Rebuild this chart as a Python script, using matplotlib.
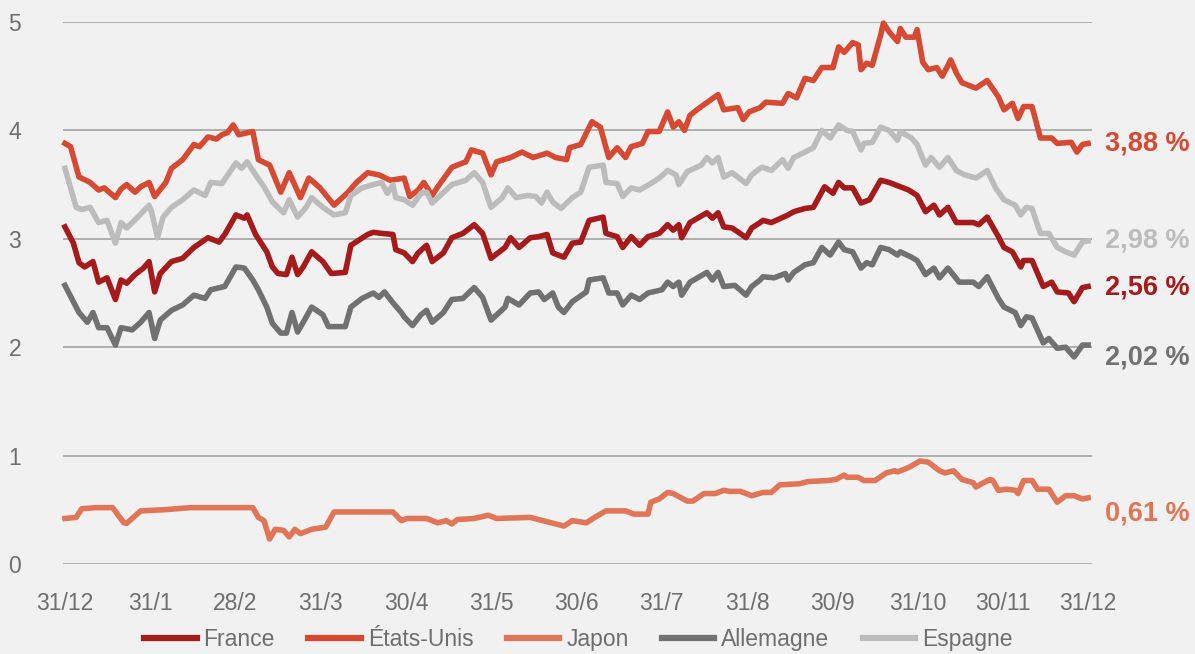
import matplotlib
matplotlib.use("Agg")
import matplotlib.pyplot as plt

plt.rcParams['font.family'] = ['Liberation Sans', 'DejaVu Sans']

# jours depuis le 31/12/2022 et taux a 10 ans (%)
us_days = [0, 2, 5, 9, 12, 14, 18, 20, 22, 25, 27, 30, 32, 36, 38, 42, 44, 46, 48, 51,
           54, 56, 58, 60, 62, 67, 69, 73, 77, 80, 84, 87, 91, 96, 101, 104, 108, 112, 116, 121,
           123, 126, 128, 131, 133, 138, 143, 145, 149, 152, 154, 159, 163, 167, 172, 175, 179, 180, 184, 188,
           191, 194, 197, 200, 202, 206, 208, 212, 215, 217, 219, 221, 223, 227, 233, 235, 240, 242, 244, 248,
           250, 256, 258, 261, 264, 267, 270, 274, 276, 278, 281, 283, 284, 286, 288, 291, 292, 294, 297, 298,
           300, 303, 304, 306, 308, 311, 313, 316, 318, 320, 325, 329, 333, 335, 338, 340, 342, 345, 348, 352,
           354, 359, 361, 363, 365]
us_vals = [3.88, 3.85, 3.57, 3.52, 3.45, 3.47, 3.38, 3.46, 3.50, 3.43, 3.48, 3.52, 3.39, 3.52, 3.65, 3.73, 3.80, 3.87, 3.85, 3.94,
           3.92, 3.96, 3.98, 4.05, 3.96, 3.99, 3.73, 3.68, 3.43, 3.61, 3.38, 3.56, 3.47, 3.31, 3.43, 3.52, 3.61, 3.59, 3.54, 3.56,
           3.39, 3.45, 3.52, 3.40, 3.48, 3.66, 3.71, 3.82, 3.79, 3.59, 3.71, 3.75, 3.80, 3.75, 3.79, 3.75, 3.73, 3.84, 3.87, 4.08,
           4.03, 3.75, 3.84, 3.75, 3.85, 3.88, 3.99, 3.99, 4.17, 4.03, 4.08, 4.00, 4.14, 4.22, 4.33, 4.19, 4.21, 4.10, 4.17, 4.21,
           4.26, 4.25, 4.34, 4.30, 4.48, 4.46, 4.58, 4.58, 4.77, 4.72, 4.81, 4.79, 4.56, 4.62, 4.60, 4.88, 4.99, 4.91, 4.82, 4.94,
           4.86, 4.86, 4.93, 4.63, 4.56, 4.58, 4.50, 4.65, 4.53, 4.44, 4.39, 4.46, 4.31, 4.19, 4.25, 4.11, 4.22, 4.22, 3.93, 3.93,
           3.88, 3.89, 3.80, 3.87, 3.88]

fr_days = [0, 3, 5, 7, 10, 12, 15, 18, 20, 22, 25, 28, 30, 32, 34, 38, 42, 46, 51, 55,
           57, 61, 64, 65, 68, 72, 74, 76, 79, 81, 83, 85, 88, 92, 95, 100, 102, 108, 110, 113,
           117, 118, 121, 124, 126, 129, 131, 135, 138, 142, 146, 149, 152, 157, 159, 162, 166, 169, 172, 174,
           178, 181, 184, 187, 192, 193, 197, 199, 202, 205, 208, 212, 215, 217, 219, 220, 223, 229, 231, 233,
           235, 238, 243, 245, 248, 249, 252, 258, 260, 264, 267, 271, 274, 276, 278, 281, 284, 287, 291, 294,
           296, 298, 301, 304, 307, 310, 312, 315, 318, 324, 326, 329, 333, 335, 338, 341, 342, 345, 349, 352,
           354, 358, 360, 363, 365]
fr_vals = [3.11, 2.96, 2.78, 2.74, 2.79, 2.60, 2.64, 2.44, 2.62, 2.59, 2.67, 2.73, 2.79, 2.51, 2.68, 2.79, 2.82, 2.92, 3.01, 2.97,
           3.04, 3.22, 3.19, 3.22, 3.04, 2.88, 2.74, 2.68, 2.67, 2.83, 2.67, 2.74, 2.88, 2.79, 2.68, 2.69, 2.94, 3.04, 3.06, 3.05,
           3.04, 2.90, 2.87, 2.79, 2.87, 2.94, 2.79, 2.87, 3.01, 3.05, 3.13, 3.05, 2.82, 2.92, 3.01, 2.92, 3.01, 3.02, 3.04, 2.87,
           2.83, 2.96, 2.97, 3.17, 3.20, 3.05, 3.02, 2.92, 3.02, 2.94, 3.02, 3.05, 3.13, 3.08, 3.13, 3.01, 3.15, 3.24, 3.19, 3.24,
           3.11, 3.10, 3.01, 3.10, 3.15, 3.17, 3.15, 3.22, 3.25, 3.28, 3.29, 3.48, 3.42, 3.52, 3.47, 3.47, 3.33, 3.36, 3.54, 3.52,
           3.50, 3.48, 3.45, 3.40, 3.25, 3.31, 3.22, 3.29, 3.15, 3.15, 3.13, 3.20, 3.02, 2.92, 2.88, 2.74, 2.80, 2.80, 2.56, 2.60,
           2.51, 2.50, 2.42, 2.55, 2.56]

jp_days = [0, 4, 6, 11, 17, 21, 22, 27, 35, 45, 67, 69, 71, 73, 75, 78, 80, 82, 84, 88,
           93, 96, 107, 117, 120, 122, 129, 133, 136, 138, 140, 146, 151, 154, 166, 172, 178, 181, 186, 189,
           193, 200, 203, 208, 209, 212, 215, 217, 222, 224, 228, 232, 235, 237, 241, 245, 249, 252, 255, 262,
           265, 272, 275, 278, 279, 283, 285, 289, 293, 296, 297, 301, 305, 308, 312, 314, 317, 320, 324, 325,
           327, 330, 331, 333, 336, 339, 340, 342, 345, 347, 351, 354, 357, 360, 363, 365]
jp_vals = [0.42, 0.43, 0.51, 0.52, 0.52, 0.38, 0.375, 0.49, 0.50, 0.52, 0.52, 0.43, 0.40, 0.23, 0.32, 0.31, 0.25, 0.32, 0.28, 0.32,
           0.34, 0.48, 0.48, 0.48, 0.40, 0.42, 0.42, 0.38, 0.40, 0.37, 0.41, 0.42, 0.45, 0.42, 0.43, 0.39, 0.35, 0.40, 0.38, 0.43,
           0.49, 0.49, 0.46, 0.46, 0.57, 0.60, 0.66, 0.65, 0.58, 0.58, 0.65, 0.65, 0.68, 0.67, 0.67, 0.63, 0.66, 0.66, 0.73, 0.74,
           0.76, 0.77, 0.78, 0.82, 0.80, 0.80, 0.77, 0.77, 0.84, 0.86, 0.85, 0.89, 0.95, 0.94, 0.86, 0.84, 0.86, 0.78, 0.75, 0.71,
           0.74, 0.78, 0.77, 0.68, 0.69, 0.68, 0.65, 0.77, 0.77, 0.69, 0.69, 0.57, 0.63, 0.63, 0.60, 0.61]

de_days = [0, 3, 5, 8, 10, 12, 15, 18, 20, 24, 27, 30, 32, 34, 38, 42, 46, 50, 52, 57,
           61, 64, 67, 69, 72, 74, 77, 79, 81, 83, 85, 88, 92, 94, 100, 102, 106, 110, 112, 114,
           117, 120, 121, 124, 127, 129, 131, 135, 138, 142, 146, 149, 152, 157, 158, 162, 166, 169, 171, 174,
           176, 178, 181, 186, 187, 192, 194, 197, 199, 202, 205, 208, 213, 215, 217, 219, 220, 223, 229, 231,
           233, 235, 239, 243, 245, 248, 249, 253, 257, 258, 260, 264, 267, 270, 273, 276, 278, 281, 284, 286,
           288, 291, 294, 297, 298, 302, 304, 307, 310, 312, 315, 319, 324, 326, 329, 333, 335, 339, 341, 343,
           345, 349, 351, 354, 357, 360, 363, 365]
de_vals = [2.57, 2.42, 2.32, 2.23, 2.32, 2.18, 2.18, 2.02, 2.18, 2.16, 2.23, 2.32, 2.08, 2.25, 2.34, 2.39, 2.48, 2.45, 2.53, 2.56,
           2.74, 2.73, 2.62, 2.53, 2.37, 2.22, 2.13, 2.13, 2.32, 2.14, 2.23, 2.37, 2.30, 2.19, 2.19, 2.37, 2.45, 2.50, 2.46, 2.51,
           2.41, 2.32, 2.28, 2.20, 2.30, 2.34, 2.23, 2.32, 2.44, 2.45, 2.55, 2.46, 2.25, 2.37, 2.45, 2.39, 2.50, 2.51, 2.44, 2.50,
           2.37, 2.32, 2.42, 2.51, 2.62, 2.64, 2.50, 2.50, 2.39, 2.48, 2.44, 2.50, 2.53, 2.60, 2.56, 2.60, 2.48, 2.60, 2.69, 2.62,
           2.69, 2.56, 2.57, 2.48, 2.56, 2.62, 2.65, 2.64, 2.68, 2.62, 2.69, 2.76, 2.78, 2.92, 2.85, 2.97, 2.90, 2.88, 2.73, 2.78,
           2.76, 2.92, 2.90, 2.85, 2.88, 2.83, 2.80, 2.67, 2.73, 2.64, 2.73, 2.60, 2.60, 2.56, 2.65, 2.45, 2.37, 2.32, 2.20, 2.28,
           2.27, 2.04, 2.08, 1.99, 2.00, 1.91, 2.02, 2.02]

es_days = [0, 2, 4, 6, 9, 12, 15, 18, 20, 22, 26, 30, 31, 33, 35, 38, 42, 46, 50, 52,
           56, 61, 63, 65, 68, 71, 74, 78, 80, 83, 86, 88, 92, 96, 100, 102, 106, 110, 113, 115,
           117, 118, 121, 124, 127, 129, 131, 136, 138, 143, 146, 149, 152, 156, 158, 161, 165, 168, 170, 172,
           174, 177, 181, 184, 187, 192, 193, 197, 199, 202, 205, 209, 212, 215, 218, 219, 222, 227, 229, 231,
           233, 235, 238, 243, 245, 248, 249, 252, 256, 258, 260, 264, 267, 270, 273, 276, 279, 281, 284, 285,
           288, 291, 294, 297, 298, 302, 304, 307, 309, 312, 315, 318, 321, 325, 329, 332, 335, 339, 341, 343,
           345, 348, 351, 354, 357, 360, 363, 365]
es_vals = [3.65, 3.47, 3.29, 3.27, 3.29, 3.15, 3.17, 2.96, 3.15, 3.10, 3.20, 3.31, 3.24, 3.01, 3.20, 3.29, 3.36, 3.45, 3.40, 3.52,
           3.51, 3.70, 3.65, 3.71, 3.59, 3.48, 3.34, 3.24, 3.36, 3.20, 3.29, 3.38, 3.29, 3.22, 3.24, 3.40, 3.47, 3.50, 3.52, 3.42,
           3.50, 3.38, 3.36, 3.31, 3.42, 3.43, 3.33, 3.45, 3.50, 3.54, 3.61, 3.52, 3.29, 3.38, 3.47, 3.38, 3.40, 3.39, 3.33, 3.43,
           3.34, 3.28, 3.38, 3.43, 3.66, 3.68, 3.52, 3.51, 3.39, 3.47, 3.45, 3.51, 3.56, 3.63, 3.59, 3.50, 3.62, 3.68, 3.75, 3.70,
           3.75, 3.57, 3.61, 3.51, 3.59, 3.65, 3.66, 3.63, 3.73, 3.65, 3.75, 3.80, 3.84, 4.00, 3.93, 4.05, 4.00, 3.99, 3.82, 3.88,
           3.89, 4.03, 4.00, 3.91, 3.99, 3.93, 3.87, 3.68, 3.75, 3.66, 3.75, 3.63, 3.59, 3.56, 3.63, 3.47, 3.36, 3.31, 3.22, 3.29,
           3.28, 3.05, 3.05, 2.92, 2.88, 2.85, 2.97, 2.98]

tick_labels = ['31/12', '31/1', '28/2', '31/3', '30/4', '31/5', '30/6',
               '31/7', '31/8', '30/9', '31/10', '30/11', '31/12']

series = [
    ('France', fr_days, fr_vals, '#a51b1b', '2,56 %', -1),
    ('États-Unis', us_days, us_vals, '#d64a33', '3,88 %', 0),
    ('Japon', jp_days, jp_vals, '#e07657', '0,61 %', -11),
    ('Allemagne', de_days, de_vals, '#717171', '2,02 %', -9),
    ('Espagne', es_days, es_vals, '#bcbcbc', '2,98 %', 0),
]

bg = '#f1f1f1'
fig = plt.figure(figsize=(11.95, 6.54), dpi=100, facecolor=bg)
ax = fig.add_axes([63 / 1195, 90 / 654, 1029 / 1195, 542 / 654], facecolor=bg)

for name, d, v, col, lab, dy in series:
    ax.plot(d, v, color=col, lw=4.0, solid_joinstyle='round', label=name, clip_on=False, zorder=3)
    ax.annotate(lab, xy=(d[-1], v[-1]), xytext=(12, dy), textcoords='offset points',
                color=col, fontsize=19.5, fontweight='bold', va='center', ha='left',
                annotation_clip=False)

ax.set_xlim(-0.7, 366.4)
ax.set_ylim(0, 5)
ax.set_yticks(range(0, 6))
ax.set_xticks([365 * k / 12 for k in range(13)])
ax.set_xticklabels(tick_labels)
ax.grid(axis='y', color='#a3a3a3', lw=1.2, zorder=0)
ax.grid(axis='x', visible=False)
for s in ax.spines.values():
    s.set_visible(False)
ax.tick_params(axis='both', length=0, labelsize=16.5, labelcolor='#6e6e6e')
ax.tick_params(axis='y', pad=30)
ax.tick_params(axis='x', pad=20)

handles, labels = ax.get_legend_handles_labels()
leg = fig.legend(handles, labels, loc='center', bbox_to_anchor=(0.484, 0.022), ncol=5,
                 frameon=False, fontsize=16.5, handlelength=2.3, handletextpad=0.3,
                 columnspacing=1.45)
for line in leg.get_lines():
    line.set_linewidth(4.5)
for t in leg.get_texts():
    t.set_color('#6e6e6e')

fig.savefig('out.png', dpi=100, facecolor=bg)
